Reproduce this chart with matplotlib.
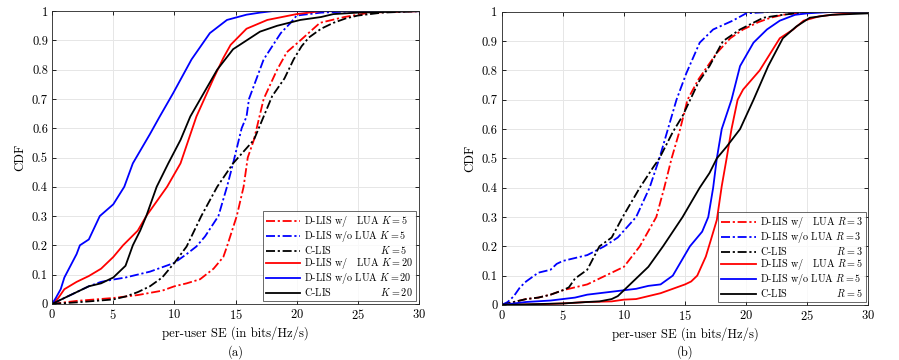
import numpy as np
import matplotlib
matplotlib.use("Agg")
import matplotlib.pyplot as plt

plt.rcParams['font.family'] = 'serif'
plt.rcParams['font.serif'] = ['cmr10', 'DejaVu Serif']
plt.rcParams['mathtext.fontset'] = 'cm'
plt.rcParams['axes.formatter.use_mathtext'] = True
plt.rcParams['font.size'] = 8

# --- panel (a): K = 5 / K = 20 ---
a_wlua5_x = [0, 2, 5, 7, 9, 10, 11, 12.1, 13.2, 14, 14.3, 15.1, 15.66, 16, 16.5, 17.3, 18.4, 19.2, 20.3, 21.9, 23.9, 26, 30]
a_wlua5_y = [0, 0.01, 0.02, 0.03, 0.045, 0.06, 0.07, 0.084, 0.12, 0.16, 0.196, 0.30, 0.40, 0.50, 0.56, 0.70, 0.80, 0.86, 0.90, 0.96, 0.98, 0.995, 1]

a_wolua5_x = [0, 0.5, 1, 2, 3, 4, 5, 6, 7, 8, 9, 10, 11, 11.8, 12.5, 13.6, 14.3, 14.8, 15.5, 15.9, 16.1, 17.3, 18.7, 19.5, 20, 22, 25, 30]
a_wolua5_y = [0, 0.01, 0.02, 0.04, 0.06, 0.075, 0.083, 0.09, 0.10, 0.11, 0.125, 0.14, 0.17, 0.196, 0.23, 0.30, 0.40, 0.48, 0.60, 0.64, 0.70, 0.835, 0.925, 0.96, 0.985, 0.995, 1, 1]

a_clis5_x = [0, 2, 5, 6, 7, 8, 9, 10, 11, 12.2, 13.5, 14.8, 16.5, 17.3, 18.0, 19.0, 19.75, 20.4, 21, 22, 23, 24, 25, 27, 30]
a_clis5_y = [0, 0.005, 0.015, 0.025, 0.04, 0.06, 0.09, 0.14, 0.196, 0.30, 0.40, 0.48, 0.56, 0.64, 0.71, 0.77, 0.835, 0.88, 0.91, 0.94, 0.96, 0.975, 0.985, 0.995, 1]

a_wlua20_x = [0, 0.5, 1, 2, 3, 4, 5, 5.8, 7, 7.7, 9.4, 10.5, 11.8, 13.2, 14, 14.6, 15.9, 17.6, 20, 22, 30]
a_wlua20_y = [0, 0.02, 0.05, 0.075, 0.095, 0.12, 0.16, 0.20, 0.25, 0.30, 0.40, 0.48, 0.64, 0.77, 0.84, 0.885, 0.94, 0.97, 0.99, 1, 1]

a_wolua20_x = [0, 0.3, 0.7, 1, 2, 2.27, 3, 3.9, 5, 5.9, 6.6, 8, 8.8, 9.9, 11.4, 12.9, 14.3, 15.9, 17, 18, 30]
a_wolua20_y = [0, 0.02, 0.05, 0.09, 0.17, 0.20, 0.22, 0.30, 0.34, 0.40, 0.48, 0.58, 0.64, 0.72, 0.835, 0.925, 0.97, 0.988, 0.995, 1, 1]

a_clis20_x = [0, 1, 2, 3, 4, 5, 6, 6.6, 7.2, 7.7, 8.55, 9.5, 10.5, 11.3, 12.4, 13.5, 14.8, 15.9, 17, 18.4, 20.3, 22, 23, 25, 30]
a_clis20_y = [0, 0.02, 0.04, 0.06, 0.07, 0.09, 0.13, 0.20, 0.25, 0.30, 0.40, 0.48, 0.56, 0.64, 0.72, 0.80, 0.87, 0.90, 0.93, 0.95, 0.97, 0.98, 0.99, 0.995, 1]

# --- panel (b): R = 3 / R = 5 ---
b_wlua3_x = [0, 1, 2, 3, 4, 5, 6, 7, 8, 9, 10, 11.3, 12.65, 13.3, 13.9, 14.6, 15.2, 16.1, 17.6, 18.7, 19.75, 21, 22, 23, 25, 30]
b_wlua3_y = [0, 0.01, 0.02, 0.025, 0.035, 0.05, 0.06, 0.07, 0.09, 0.11, 0.13, 0.20, 0.30, 0.40, 0.50, 0.60, 0.70, 0.77, 0.86, 0.91, 0.94, 0.965, 0.98, 0.99, 1, 1]

b_wolua3_x = [0, 0.5, 1, 1.5, 2, 3, 4, 4.5, 5, 6, 7, 8.4, 9.5, 11.0, 12.1, 12.9, 13.6, 14.3, 15.1, 16.2, 17.3, 18.9, 20, 22, 30]
b_wolua3_y = [0, 0.01, 0.03, 0.06, 0.08, 0.11, 0.12, 0.14, 0.15, 0.16, 0.17, 0.20, 0.23, 0.30, 0.40, 0.50, 0.60, 0.70, 0.79, 0.895, 0.94, 0.97, 0.995, 1, 1]

b_clis3_x = [0, 1, 2, 3, 4, 5, 5.5, 6, 7, 8.0, 9, 9.9, 11.3, 12.4, 12.9, 14.0, 14.8, 16.1, 17.0, 18.1, 19.5, 21.4, 23, 25, 30]
b_clis3_y = [0, 0.01, 0.02, 0.025, 0.035, 0.05, 0.06, 0.09, 0.12, 0.20, 0.23, 0.30, 0.40, 0.47, 0.50, 0.59, 0.645, 0.76, 0.815, 0.90, 0.94, 0.98, 0.99, 1, 1]

b_wlua5_x = [0, 3, 5, 7, 9, 10, 11, 12, 13, 14, 15, 15.5, 16, 16.7, 17.1, 17.6, 18.0, 18.4, 18.8, 19.3, 19.75, 21.1, 22.75, 23.85, 24.7, 26, 27, 30]
b_wlua5_y = [0, 0.002, 0.005, 0.01, 0.012, 0.018, 0.02, 0.03, 0.04, 0.055, 0.07, 0.08, 0.10, 0.165, 0.22, 0.29, 0.405, 0.50, 0.60, 0.70, 0.735, 0.80, 0.91, 0.94, 0.97, 0.985, 0.99, 1]

b_wolua5_x = [0, 1, 2, 4, 5, 6, 7, 8, 9, 10, 11, 12, 13, 14, 15.4, 16.4, 16.9, 17.3, 17.6, 18.0, 18.8, 19.5, 20.6, 21.7, 22.75, 24, 25, 27, 30]
b_wolua5_y = [0, 0.005, 0.01, 0.015, 0.02, 0.025, 0.035, 0.04, 0.045, 0.05, 0.055, 0.065, 0.07, 0.10, 0.20, 0.25, 0.30, 0.40, 0.50, 0.60, 0.70, 0.815, 0.895, 0.94, 0.97, 0.99, 0.995, 1, 1]

b_clis5_x = [0, 5, 7, 8, 9, 9.5, 10, 10.5, 11, 12, 13.2, 14.8, 16.2, 17.0, 17.6, 18.4, 19.5, 20.6, 21.8, 23.0, 24.1, 25.2, 27, 30]
b_clis5_y = [0, 0.005, 0.01, 0.012, 0.02, 0.03, 0.05, 0.07, 0.09, 0.13, 0.20, 0.30, 0.40, 0.45, 0.50, 0.54, 0.60, 0.70, 0.815, 0.91, 0.95, 0.98, 0.99, 0.995]

dashdot = (0, (5, 1.5, 1.2, 1.5))
LEG_FS = 7.3

fig = plt.figure(figsize=(8.99, 3.6), dpi=100)
renderer = fig.canvas.get_renderer()


def text_width(s):
    t = fig.text(0, 0, s, fontsize=LEG_FS)
    w = t.get_window_extent(renderer).width
    t.remove()
    return w


def pad(prefix, target, suffix):
    # add spaces after prefix so that the suffix starts where it does in target
    goal = text_width(target + suffix)
    best, best_d = prefix, 1e9
    for n in range(1, 40):
        d = abs(text_width(prefix + ' ' * n + suffix) - goal)
        if d < best_d:
            best, best_d = prefix + ' ' * n, d
    return best


def labels(par, v1, v2):
    wo = 'D-LIS w/o LUA '
    w_ = pad('D-LIS w/', 'D-LIS w/o', ' LUA $%s$' % par)
    cl = pad('C-LIS', wo.rstrip(), ' $%s$' % par)
    out = []
    for v in (v1, v2):
        m = '$%s = %s$' % (par, v)
        out.append([w_ + ' LUA ' + m, wo + m, cl + ' ' + m])
    return out


la = labels('K', 5, 20)
lb = labels('R', 3, 5)

panels = [
    dict(
        rect=[0.058, 0.156, 0.408, 0.813], tag='(a)', tag_x=0.262,
        curves=[
            (a_wlua5_x, a_wlua5_y, 'red', dashdot, la[0][0]),
            (a_wolua5_x, a_wolua5_y, 'blue', dashdot, la[0][1]),
            (a_clis5_x, a_clis5_y, 'black', dashdot, la[0][2]),
            (a_wlua20_x, a_wlua20_y, 'red', '-', la[1][0]),
            (a_wolua20_x, a_wolua20_y, 'blue', '-', la[1][1]),
            (a_clis20_x, a_clis20_y, 'black', '-', la[1][2]),
        ]),
    dict(
        rect=[0.558, 0.153, 0.408, 0.814], tag='(b)', tag_x=0.762,
        curves=[
            (b_wlua3_x, b_wlua3_y, 'red', dashdot, lb[0][0]),
            (b_wolua3_x, b_wolua3_y, 'blue', dashdot, lb[0][1]),
            (b_clis3_x, b_clis3_y, 'black', dashdot, lb[0][2]),
            (b_wlua5_x, b_wlua5_y, 'red', '-', lb[1][0]),
            (b_wolua5_x, b_wolua5_y, 'blue', '-', lb[1][1]),
            (b_clis5_x, b_clis5_y, 'black', '-', lb[1][2]),
        ]),
]

for p in panels:
    ax = fig.add_axes(p['rect'])
    for x, y, c, ls, lab in p['curves']:
        ax.plot(x, y, color=c, linestyle=ls, linewidth=1.3, label=lab)
    ax.set_xlim(0, 30)
    ax.set_ylim(0, 1)
    ax.set_xticks(np.arange(0, 31, 5))
    ax.set_yticks(np.arange(0, 1.01, 0.1))
    ax.set_yticklabels(['0'] + ['%.1f' % v for v in np.arange(0.1, 0.95, 0.1)] + ['1'])
    ax.grid(True, color='#e6e6e6', linewidth=0.7)
    ax.set_axisbelow(True)
    ax.tick_params(direction='in', top=True, right=True, length=3, width=0.6, labelsize=9, pad=3)
    for s in ax.spines.values():
        s.set_linewidth(0.6)
        s.set_color('#262626')
    ax.set_xlabel('per-user SE (in bits/Hz/s)', fontsize=9.2, labelpad=3)
    ax.set_ylabel('CDF', fontsize=9.2, labelpad=4)
    leg = ax.legend(loc='lower right', fontsize=LEG_FS, frameon=True, fancybox=False,
                    edgecolor='#262626', handlelength=3.4, handletextpad=0.4,
                    borderpad=0.3, labelspacing=0.0, borderaxespad=0.25)
    leg.get_frame().set_linewidth(0.6)
    fig.text(p['tag_x'], 1 - 352 / 360, p['tag'], ha='center', va='center', fontsize=9)

fig.savefig('out.png', dpi=100)
